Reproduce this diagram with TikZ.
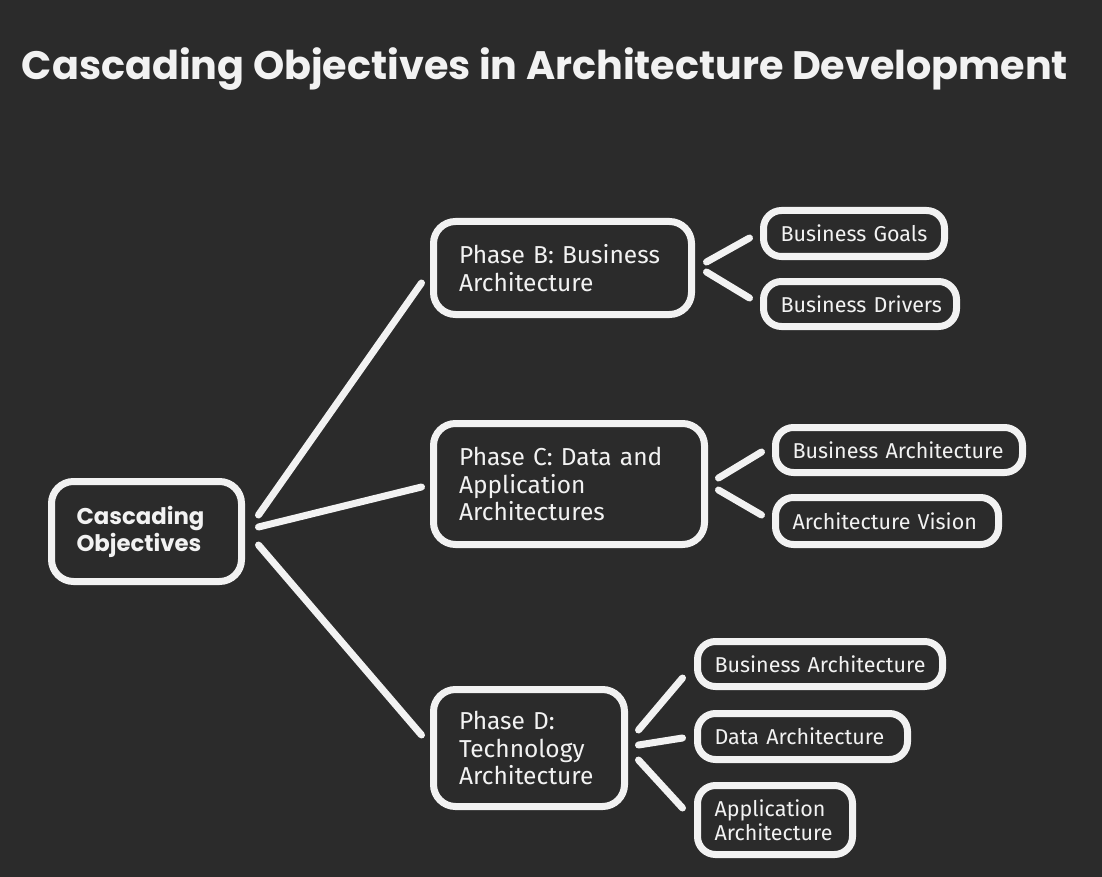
\documentclass[tikz,border=0pt]{standalone}
\usepackage{fontspec}
\setmainfont{Fira Sans}
\newfontfamily\titlefont{Poppins}
\definecolor{bgc}{HTML}{2B2B2B}
\definecolor{fgc}{HTML}{F2F2F2}
\newcommand\oneline[1]{\mbox{#1}}
\begin{document}
\begin{tikzpicture}[x=1pt,y=-1pt,
  box/.style={draw=fgc, line width=7pt, rounded corners=22pt, text=fgc, align=left, anchor=center, inner ysep=0pt},
  mid/.style={box, font=\fontsize{24.5}{27.5}\selectfont},
  leaf/.style={box, rounded corners=18pt, font=\fontsize{21.5}{23.5}\selectfont},
  conn/.style={draw=fgc, line width=7pt, line cap=round}]
\fill[bgc] (0,0) rectangle (1102,877);
\useasboundingbox (0,0) rectangle (1102,877);
\node[text=fgc, font=\titlefont\bfseries\fontsize{39.7}{44}\selectfont] (title) at (545,69) {Cascading Objectives in Architecture Development};
% root
\node[box, font=\titlefont\bfseries\fontsize{22.8}{27}\selectfont, minimum width=190pt, minimum height=100pt, text width=140pt, inner xsep=25pt] (root) at (146.5,531.5) {\oneline{Cascading}\\\oneline{Objectives}};
% phases
\node[mid, minimum width=258pt, minimum height=93pt, text width=207pt, inner xsep=25.5pt] (B) at (562.5,268) {\oneline{Phase B: Business}\\\oneline{Architecture}};
\node[mid, minimum width=271pt, minimum height=121pt, text width=220pt, inner xsep=25.5pt] (C) at (569,484) {\oneline{Phase C: Data and}\\\oneline{Application}\\\oneline{Architectures}};
\node[mid, minimum width=191pt, minimum height=117pt, text width=140pt, inner xsep=25.5pt] (D) at (529,748) {\oneline{Phase D:}\\\oneline{Technology}\\\oneline{Architecture}};
% leaves
\node[leaf, minimum width=181pt, minimum height=46pt, text width=147pt, inner xsep=17pt] (goals) at (854,233.5) {\oneline{Business Goals}};
\node[leaf, minimum width=193pt, minimum height=45pt, text width=159pt, inner xsep=17pt] (drivers) at (860,304) {\oneline{Business Drivers}};
\node[leaf, minimum width=247pt, minimum height=45pt, text width=213pt, inner xsep=17pt] (cba) at (899,450) {\oneline{Business Architecture}};
\node[leaf, minimum width=223pt, minimum height=47pt, text width=189pt, inner xsep=17pt] (av) at (887,521) {\oneline{Architecture Vision}};
\node[leaf, minimum width=245pt, minimum height=45pt, text width=211pt, inner xsep=17pt] (dba) at (820,664) {\oneline{Business Architecture}};
\node[leaf, minimum width=210pt, minimum height=46pt, text width=176pt, inner xsep=17pt] (da) at (802.5,736.5) {\oneline{Data Architecture}};
\node[leaf, minimum width=155pt, minimum height=69pt, text width=121pt, inner xsep=17pt] (aa) at (775,820) {\oneline{Application}\\\oneline{Architecture}};
% connectors
\draw[conn] ([xshift=13.5pt,yshift=16.5pt]root.east) -- ([xshift=-8.5pt,yshift=-15pt]B.west);
\draw[conn] ([xshift=13.5pt,yshift=4.5pt]root.east) -- ([xshift=-8.5pt,yshift=-3pt]C.west);
\draw[conn] ([xshift=13.5pt,yshift=-13.5pt]root.east) -- ([xshift=-8.5pt,yshift=13pt]D.west);
\draw[conn] ([xshift=11.5pt,yshift=6pt]B.east) -- ([xshift=-10.5pt,yshift=-4.5pt]goals.west);
\draw[conn] ([xshift=11.5pt,yshift=-4pt]B.east) -- ([xshift=-10.5pt,yshift=6pt]drivers.west);
\draw[conn] ([xshift=10.5pt,yshift=6pt]C.east) -- ([xshift=-10.5pt,yshift=-2pt]cba.west);
\draw[conn] ([xshift=10.5pt,yshift=-6pt]C.east) -- ([xshift=-10.5pt,yshift=6pt]av.west);
\draw[conn] ([xshift=10.5pt,yshift=18pt]D.east) -- ([xshift=-11.5pt,yshift=-14pt]dba.west);
\draw[conn] ([xshift=10.5pt,yshift=3pt]D.east) -- ([xshift=-11.5pt,yshift=-1.5pt]da.west);
\draw[conn] ([xshift=10.5pt,yshift=-12pt]D.east) -- ([xshift=-11.5pt,yshift=12pt]aa.west);
\end{tikzpicture}
\end{document}
